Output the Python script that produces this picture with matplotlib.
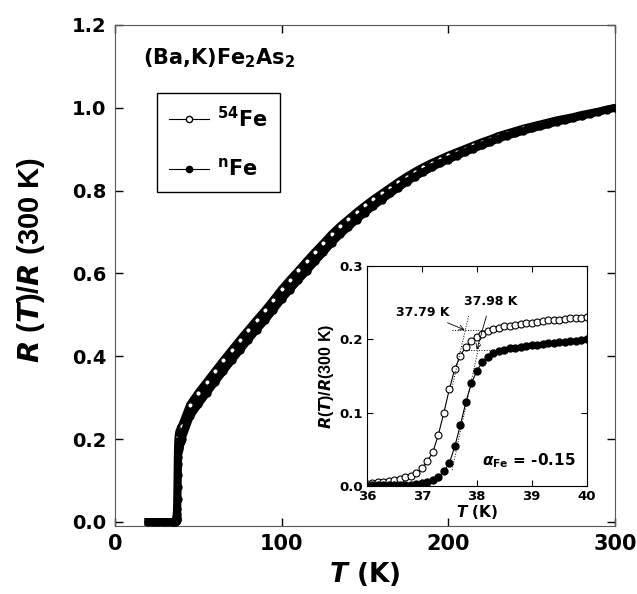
import numpy as np
import matplotlib
matplotlib.use("Agg")
from matplotlib import pyplot as plt
from matplotlib.lines import Line2D

plt.rcParams["font.family"] = ["DejaVu Sans"]
plt.rcParams["font.weight"] = "bold"
plt.rcParams["axes.labelweight"] = "bold"
plt.rcParams["mathtext.fontset"] = "custom"
plt.rcParams["mathtext.rm"] = "DejaVu Sans:bold"
plt.rcParams["mathtext.it"] = "DejaVu Sans:italic:bold"
plt.rcParams["mathtext.bf"] = "DejaVu Sans:bold"

# low temperature part (superconducting, R = 0)
T_low = [20, 22, 24, 26, 28, 30, 32, 34, 35, 36]
R_low = [0, 0, 0, 0, 0, 0, 0, 0, 0, 0]

# transition region (also shown in the inset), 0.1 K steps
T_tr = [36.0, 36.1, 36.2, 36.3, 36.4, 36.5, 36.6, 36.7, 36.8, 36.9,
        37.0, 37.1, 37.2, 37.3, 37.4, 37.5, 37.6, 37.7, 37.8, 37.9,
        38.0, 38.1, 38.2, 38.3, 38.4, 38.5, 38.6, 38.7, 38.8, 38.9,
        39.0, 39.1, 39.2, 39.3, 39.4, 39.5, 39.6, 39.7, 39.8, 39.9, 40.0]
R54_tr = [0.003, 0.004, 0.005, 0.006, 0.007, 0.008, 0.010, 0.012, 0.014, 0.018,
          0.024, 0.034, 0.046, 0.070, 0.100, 0.132, 0.160, 0.178, 0.190, 0.198,
          0.204, 0.208, 0.211, 0.214, 0.216, 0.218, 0.219, 0.220, 0.221, 0.222,
          0.223, 0.224, 0.225, 0.226, 0.227, 0.227, 0.228, 0.229, 0.229, 0.230, 0.231]
Rn_tr = [0.000, 0.001, 0.001, 0.001, 0.001, 0.001, 0.001, 0.002, 0.002, 0.003,
         0.004, 0.006, 0.008, 0.012, 0.020, 0.031, 0.054, 0.083, 0.114, 0.140,
         0.157, 0.169, 0.176, 0.181, 0.184, 0.186, 0.188, 0.189, 0.190, 0.191,
         0.192, 0.193, 0.194, 0.195, 0.195, 0.196, 0.197, 0.198, 0.198, 0.199, 0.200]

# normal state, 5 K steps
T_hi = [45, 50, 55, 60, 65, 70, 75, 80, 85, 90, 95, 100, 105, 110, 115, 120,
        125, 130, 135, 140, 145, 150, 155, 160, 165, 170, 175, 180, 185, 190,
        195, 200, 205, 210, 215, 220, 225, 230, 235, 240, 245, 250, 255, 260,
        265, 270, 275, 280, 285, 290, 295, 300]
R54_hi = [0.283, 0.312, 0.338, 0.364, 0.390, 0.415, 0.440, 0.464, 0.488, 0.511,
          0.536, 0.562, 0.585, 0.607, 0.630, 0.652, 0.673, 0.695, 0.714, 0.731,
          0.748, 0.764, 0.779, 0.793, 0.807, 0.821, 0.834, 0.846, 0.857, 0.867,
          0.876, 0.885, 0.893, 0.901, 0.909, 0.917, 0.924, 0.932, 0.938, 0.944,
          0.950, 0.955, 0.960, 0.965, 0.970, 0.974, 0.978, 0.983, 0.987, 0.991,
          0.996, 1.000]
Rn_hi = [0.255, 0.284, 0.311, 0.338, 0.364, 0.390, 0.415, 0.440, 0.464, 0.487,
         0.512, 0.538, 0.561, 0.584, 0.606, 0.629, 0.651, 0.674, 0.694, 0.712,
         0.730, 0.747, 0.763, 0.778, 0.793, 0.807, 0.821, 0.834, 0.845, 0.856,
         0.866, 0.875, 0.884, 0.893, 0.901, 0.909, 0.917, 0.925, 0.932, 0.938,
         0.944, 0.950, 0.955, 0.960, 0.966, 0.970, 0.975, 0.980, 0.985, 0.990,
         0.995, 1.000]

T_all = T_low + T_tr + T_hi
R54_all = R_low + R54_tr + R54_hi
Rn_all = R_low + Rn_tr + Rn_hi

# tangent constructions in the inset
tan54_T = [37.55, 37.85]
tan54_R = [0.135, 0.232]
hor54_T = [37.55, 38.15]
hor54_R = [0.213, 0.213]
tann_T = [37.55, 38.05]
tann_R = [0.022, 0.195]
horn_T = [37.75, 38.25]
horn_R = [0.186, 0.186]

fig = plt.figure(figsize=(6.37, 5.94), dpi=100)
ax = fig.add_axes([0.1805, 0.1145, 0.785, 0.8435])

# main curves: thick band + markers (nFe drawn on top)
ax.plot(T_all, R54_all, color="black", lw=5.5, zorder=2)
ax.plot(T_all, R54_all, "o", ms=4, mfc="white", mec="black", mew=1, zorder=3)
ax.plot(T_all, Rn_all, color="black", lw=5.5, zorder=4)
ax.plot(T_all, Rn_all, "o", ms=5, mfc="black", mec="black", zorder=5)

ax.set_xlim(0, 300)
ax.set_ylim(-0.01, 1.2)
ax.set_xticks([0, 100, 200, 300])
ax.set_yticks([0.0, 0.2, 0.4, 0.6, 0.8, 1.0, 1.2])
ax.set_yticklabels(["0.0", "0.2", "0.4", "0.6", "0.8", "1.0", "1.2"])
ax.tick_params(direction="in", top=True, right=True, length=6, width=1, pad=6)
ax.tick_params(axis="x", labelsize=15)
ax.tick_params(axis="y", labelsize=14)
for s in ax.spines.values():
    s.set_color("0.35")
ax.set_xlabel("$T$ (K)", fontsize=19, labelpad=4)
ax.set_ylabel("$R$ ($T$)/$R$ (300 K)", fontsize=21, labelpad=8,
              family="Liberation Sans", math_fontfamily="custom")
ax.yaxis.set_label_coords(-0.135, 0.53)

ax.text(0.056, 0.957, "(Ba,K)Fe$_2$As$_2$", transform=ax.transAxes,
        fontsize=15, ha="left", va="top")

h54 = Line2D([], [], color="black", lw=0.8, marker="o", ms=4.5, mfc="white", mec="black")
hn = Line2D([], [], color="black", lw=0.8, marker="o", ms=4.5, mfc="black", mec="black")
leg = ax.legend([h54, hn], ["$^{54}$Fe", "$^{\\rm n}$Fe"], loc="upper left",
                bbox_to_anchor=(0.084, 0.864), borderaxespad=0, fontsize=15,
                handlelength=1.9, handletextpad=0.4, labelspacing=1.3,
                fancybox=False, edgecolor="black", framealpha=1, borderpad=0.6)
leg.get_frame().set_linewidth(1)

# inset
axi = fig.add_axes([0.576, 0.1818, 0.345, 0.370])
axi.plot(T_tr, R54_tr, "-o", color="black", lw=0.8, ms=5, mfc="white", mec="black", mew=0.8)
axi.plot(T_tr, Rn_tr, "-o", color="black", lw=0.8, ms=5, mfc="black", mec="black")
for tx, ty in [(tan54_T, tan54_R), (hor54_T, hor54_R), (tann_T, tann_R), (horn_T, horn_R)]:
    axi.plot(tx, ty, ":", color="black", lw=0.7)
axi.set_xlim(36, 40)
axi.set_ylim(0, 0.3)
axi.set_xticks([36, 37, 38, 39, 40])
axi.set_yticks([0.0, 0.1, 0.2, 0.3])
axi.set_yticklabels(["0.0", "0.1", "0.2", "0.3"])
axi.tick_params(direction="in", top=True, right=True, length=4, width=0.8,
                labelsize=9.5, pad=3)
axi.set_xlabel("$T$ (K)", fontsize=11, labelpad=0)
axi.set_ylabel("$R$($T$)/$R$(300 K)", fontsize=11.5, labelpad=2,
               family="Liberation Sans", math_fontfamily="custom")
axi.annotate("37.79 K", xy=(37.78, 0.213), xytext=(37.02, 0.237),
             fontsize=9, ha="center", va="center",
             arrowprops=dict(arrowstyle="->", lw=0.6, color="black", shrinkA=2, shrinkB=0))
axi.annotate("37.98 K", xy=(38.0, 0.186), xytext=(38.25, 0.252),
             fontsize=9, ha="center", va="center",
             arrowprops=dict(arrowstyle="->", lw=0.6, color="black", shrinkA=4, shrinkB=0))
axi.text(38.1, 0.035, "$\\alpha_{\\rm Fe}$ = -0.15", fontsize=11, ha="left", va="center")

fig.savefig("out.png", dpi=100)
